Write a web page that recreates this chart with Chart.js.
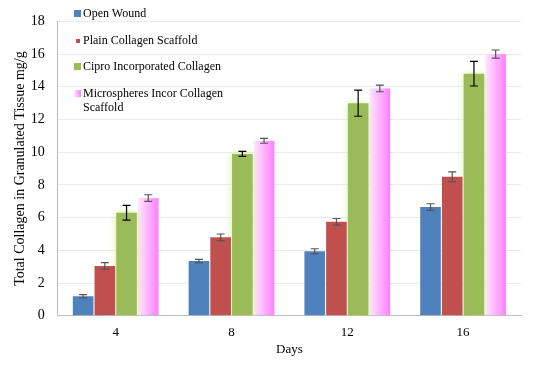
<!DOCTYPE html>
<html>
<head>
<meta charset="utf-8">
<script src="https://cdn.jsdelivr.net/npm/chart.js@4.4.1/dist/chart.umd.min.js"></script>
<style>
  html, body { margin: 0; padding: 0; background: #fff; }
  #wrap { position: relative; width: 541px; height: 365px; }
  #legend { position: absolute; left: 74px; top: 6px; font-family: "Liberation Serif", serif; font-size: 12px; color: #000; }
  .item { position: relative; padding-left: 9px; height: 26.6px; line-height: 14px; width: 160px; }
  .item i { position: absolute; left: 0; top: 4px; width: 7px; height: 7px; }
</style>
</head>
<body>
<div id="wrap">
  <canvas id="chart" width="541" height="365"></canvas>
  <div id="legend"></div>
</div>
<script>
const days = ['4', '8', '12', '16'];
const seriesNames = ['Open Wound', 'Plain Collagen  Scaffold', 'Cipro Incorporated  Collagen', 'Microspheres Incor  Collagen Scaffold'];
const openWound = [1.2, 3.35, 3.95, 6.65];
const plainScaffold = [3.05, 4.8, 5.75, 8.5];
const ciproCollagen = [6.3, 9.9, 13.0, 14.8];
const microScaffold = [7.2, 10.7, 13.9, 16.0];
const openWoundErr = [0.1, 0.1, 0.15, 0.2];
const plainScaffoldErr = [0.2, 0.2, 0.2, 0.3];
const ciproCollagenErr = [0.45, 0.15, 0.8, 0.75];
const microScaffoldErr = [0.2, 0.15, 0.2, 0.25];
const yTicks = [0, 2, 4, 6, 8, 10, 12, 14, 16, 18];

const colors = ['#4f81bd', '#c0504d', '#9bbb59', '#ff88ff'];
const errColors = ['#555', '#555', '#000', '#555'];
const errs = [openWoundErr, plainScaffoldErr, ciproCollagenErr, microScaffoldErr];

// glow on green bars, gradient on pink bars, error bars on all
const barStyling = {
    id: 'barStyling',
    beforeDatasetDraw(chart, args) {
        const c = chart.ctx;
        if (args.index === 2) {
            c.save();
            c.shadowColor = 'rgba(205, 240, 140, 0.95)';
            c.shadowBlur = 7;
        }
        if (args.index === 3) {
            args.meta.data.forEach(bar => {
                const g = c.createLinearGradient(bar.x - bar.width / 2, 0, bar.x + bar.width / 2, 0);
                g.addColorStop(0, '#ffe6ff');
                g.addColorStop(1, '#ff80ff');
                bar.options = Object.assign({}, bar.options, { backgroundColor: g });
            });
        }
    },
    afterDatasetDraw(chart, args) {
        const c = chart.ctx;
        if (args.index === 2) c.restore();
        const y = chart.scales.y;
        const e = errs[args.index];
        c.save();
        c.strokeStyle = errColors[args.index];
        c.lineWidth = 1.2;
        args.meta.data.forEach((bar, i) => {
            const v = chart.data.datasets[args.index].data[i];
            const top = y.getPixelForValue(v + e[i]);
            const bot = y.getPixelForValue(v - e[i]);
            c.beginPath();
            c.moveTo(bar.x, top); c.lineTo(bar.x, bot);
            c.moveTo(bar.x - 4, top); c.lineTo(bar.x + 4, top);
            c.moveTo(bar.x - 4, bot); c.lineTo(bar.x + 4, bot);
            c.stroke();
        });
        c.restore();
    }
};

const chart = new Chart(document.getElementById('chart'), {
    type: 'bar',
    data: {
        labels: days,
        datasets: [
            { label: seriesNames[0], data: openWound, backgroundColor: colors[0] },
            { label: seriesNames[1], data: plainScaffold, backgroundColor: colors[1] },
            { label: seriesNames[2], data: ciproCollagen, backgroundColor: colors[2] },
            { label: seriesNames[3], data: microScaffold, backgroundColor: colors[3] }
        ]
    },
    options: {
        responsive: false,
        animation: false,
        layout: { padding: { top: 12, right: 20, left: 12, bottom: 8 } },
        datasets: { bar: { categoryPercentage: 0.75, barPercentage: 0.95 } },
        plugins: { legend: { display: false }, tooltip: { enabled: false } },
        scales: {
            x: {
                grid: { display: false },
                border: { color: '#bdbdbd' },
                ticks: { color: '#000', padding: 1, font: { family: 'Liberation Serif', size: 13 } },
                title: { display: true, text: 'Days', color: '#000', font: { family: 'Liberation Serif', size: 13 }, padding: { top: 0, bottom: 0 } }
            },
            y: {
                min: 0, max: 18,
                afterBuildTicks: s => { s.ticks = yTicks.map(v => ({ value: v })); },
                grid: { color: '#ebebeb', drawTicks: false },
                border: { color: '#bdbdbd' },
                ticks: { color: '#000', padding: 13, font: { family: 'Liberation Serif', size: 14 } },
                title: { display: true, text: 'Total Collagen in Granulated Tissue mg/g', color: '#000', font: { family: 'Liberation Serif', size: 14 }, padding: { top: 0, bottom: -11 } }
            }
        }
    },
    plugins: [barStyling]
});

// legend from the dataset labels
const legend = document.getElementById('legend');
chart.data.datasets.forEach((ds, i) => {
    const d = document.createElement('div');
    d.className = 'item';
    const sw = document.createElement('i');
    sw.style.background = i === 3 ? 'linear-gradient(to right, #ffe6ff, #ff80ff)' : ds.backgroundColor;
    if (i === 1) { sw.style.width = '4px'; sw.style.height = '4px'; sw.style.left = '2px'; sw.style.top = '6px'; }
    d.appendChild(sw);
    d.appendChild(document.createTextNode(ds.label));
    legend.appendChild(d);
});
</script>
</body>
</html>
